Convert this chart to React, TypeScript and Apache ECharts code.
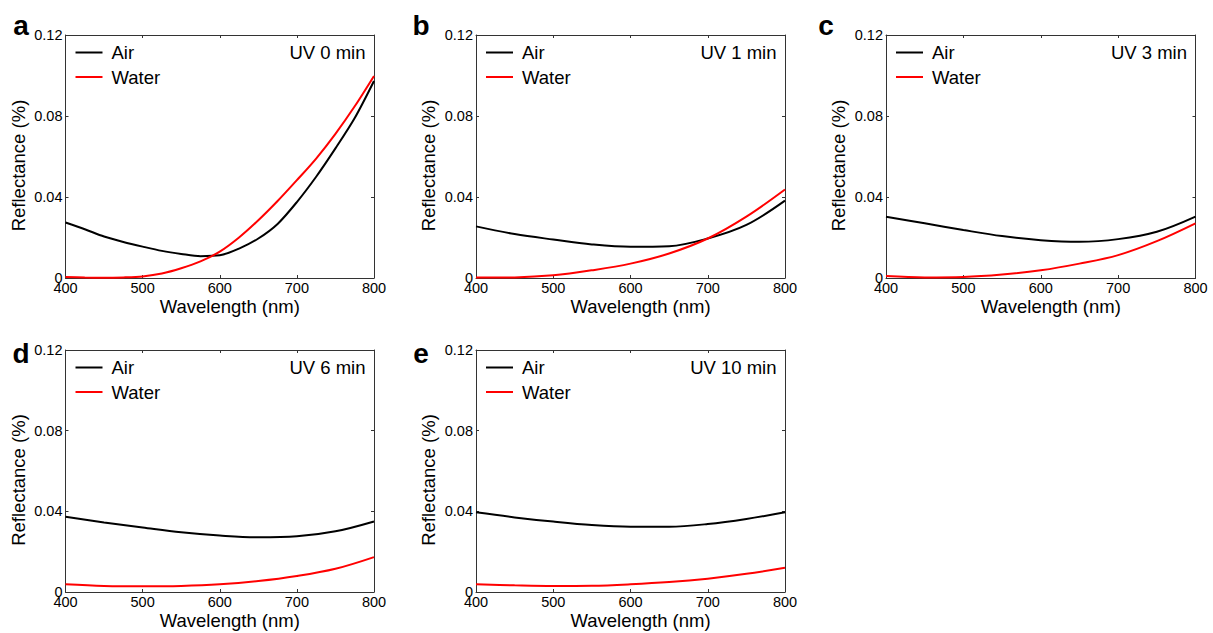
import React, { useEffect, useRef } from 'react';
import * as echarts from 'echarts';

// ---- data ----
const wavelengthsA = [400, 425, 450, 475, 500, 525, 550, 575, 600, 625, 650, 675, 700, 725, 750, 775, 800];
const airA = [0.0274, 0.0241, 0.0205, 0.0178, 0.0155, 0.0134, 0.0119, 0.0108, 0.0112, 0.0145, 0.0195, 0.0267, 0.0375, 0.05, 0.064, 0.079, 0.0973];
const waterA = [0.0005, 0.0002, 0.0001, 0.0003, 0.0008, 0.0022, 0.0048, 0.0082, 0.013, 0.02, 0.0285, 0.038, 0.0483, 0.059, 0.0712, 0.0848, 0.0998];

const wavelengths = [400, 450, 500, 550, 600, 650, 700, 750, 800];
const airB = [0.0255, 0.0217, 0.019, 0.0166, 0.0154, 0.0157, 0.0195, 0.0262, 0.0382];
const waterB = [0.0002, 0.0003, 0.0013, 0.0038, 0.0071, 0.0121, 0.0195, 0.0303, 0.0437];
const airC = [0.0303, 0.027, 0.0237, 0.0207, 0.0187, 0.0179, 0.0192, 0.0228, 0.0303];
const waterC = [0.001, 0.0003, 0.0005, 0.0017, 0.0038, 0.0071, 0.0113, 0.0182, 0.027];
const airD = [0.0373, 0.0345, 0.032, 0.0296, 0.028, 0.0271, 0.0276, 0.0301, 0.035];
const waterD = [0.0038, 0.003, 0.0028, 0.003, 0.0038, 0.0054, 0.0079, 0.0115, 0.0173];
const airE = [0.0395, 0.037, 0.0349, 0.0332, 0.0324, 0.0324, 0.0337, 0.0362, 0.0395];
const waterE = [0.0038, 0.0033, 0.003, 0.0031, 0.0038, 0.0049, 0.0066, 0.009, 0.012];

const panelLetters = ['a', 'b', 'c', 'd', 'e'];
const uvLabels = ['UV 0 min', 'UV 1 min', 'UV 3 min', 'UV 6 min', 'UV 10 min'];
const seriesNames = ['Air', 'Water'];
const xAxisTitle = 'Wavelength (nm)';
const yAxisTitle = 'Reflectance (%)';

const panelX = [wavelengthsA, wavelengths, wavelengths, wavelengths, wavelengths];
const panelAir = [airA, airB, airC, airD, airE];
const panelWater = [waterA, waterB, waterC, waterD, waterE];

// ---- layout ----
const grids = [
  { left: 65.5, top: 35, width: 308.5, height: 243 },
  { left: 476, top: 35, width: 309, height: 243 },
  { left: 886, top: 35, width: 309.5, height: 243 },
  { left: 65.5, top: 350, width: 308.5, height: 242 },
  { left: 476, top: 350, width: 309, height: 242 },
];
const letterPos = [
  [21, 25],
  [421, 25],
  [826, 25],
  [21, 353],
  [421, 353],
];

const FONT = '"Liberation Sans", Arial, Helvetica, sans-serif';
const AXIS_COLOR = '#333';

function pairs(xs: number[], ys: number[]) {
  return xs.map((x, i) => [x, ys[i]]);
}

export default function App() {
  const ref = useRef<HTMLDivElement>(null);
  useEffect(() => {
    if (!ref.current) return;
    const chart = echarts.init(ref.current, undefined, { renderer: 'svg' });

    const xAxes: any[] = [];
    const yAxes: any[] = [];
    const series: any[] = [];
    const legends: any[] = [];
    const graphics: any[] = [];

    grids.forEach((g, i) => {
      const tickStyle = { show: true, inside: true, length: 3, lineStyle: { color: AXIS_COLOR, width: 1 } };
      const lineStyle = { show: true, onZero: false, lineStyle: { color: AXIS_COLOR, width: 1 } };
      const smooth = i === 0 ? 0.3 : 0.35;
      xAxes.push({
        type: 'value', gridIndex: i, position: 'bottom', min: 400, max: 800, interval: 100,
        axisLine: lineStyle, axisTick: tickStyle, splitLine: { show: false },
        axisLabel: { show: true, color: '#000', fontFamily: FONT, fontSize: 14.5, lineHeight: 10, margin: 5 },
        name: xAxisTitle, nameLocation: 'middle', nameGap: 19,
        nameTextStyle: { color: '#000', fontFamily: FONT, fontSize: 18.5, padding: [0, 0, 0, 20] },
      });
      xAxes.push({
        type: 'value', gridIndex: i, position: 'top', min: 400, max: 800, interval: 100,
        axisLine: lineStyle, axisTick: tickStyle, splitLine: { show: false },
        axisLabel: { show: false },
      });
      yAxes.push({
        type: 'value', gridIndex: i, position: 'left', min: 0, max: 0.12, interval: 0.04,
        axisLine: lineStyle, axisTick: tickStyle, splitLine: { show: false },
        axisLabel: {
          show: true, color: '#000', fontFamily: FONT, fontSize: 14.5, lineHeight: 10, margin: 3,
          formatter: (v: number) => (v === 0 ? '0' : v.toFixed(2)),
        },
        name: yAxisTitle, nameLocation: 'middle', nameGap: 38,
        nameTextStyle: { color: '#000', fontFamily: FONT, fontSize: 18.5, padding: [0, 18, 0, 0] },
      });
      yAxes.push({
        type: 'value', gridIndex: i, position: 'right', min: 0, max: 0.12, interval: 0.04,
        axisLine: lineStyle, axisTick: tickStyle, splitLine: { show: false },
        axisLabel: { show: false },
      });
      series.push({
        type: 'line', name: seriesNames[0], xAxisIndex: i * 2, yAxisIndex: i * 2,
        data: pairs(panelX[i], panelAir[i]), smooth, showSymbol: false, symbol: 'none',
        lineStyle: { color: '#000', width: 2 }, itemStyle: { color: '#000' }, z: 2,
      });
      series.push({
        type: 'line', name: seriesNames[1], xAxisIndex: i * 2, yAxisIndex: i * 2,
        data: pairs(panelX[i], panelWater[i]), smooth, showSymbol: false, symbol: 'none',
        lineStyle: { color: '#ff0000', width: 2 }, itemStyle: { color: '#ff0000' }, z: 3,
      });
      legends.push({
        show: true, orient: 'vertical', left: g.left + 10, top: g.top + 8,
        itemWidth: 27, itemHeight: 2, itemGap: 5.5, selectedMode: false, padding: 0,
        data: seriesNames.map((n) => ({ name: n, icon: 'rect' })),
        textStyle: { color: '#000', fontFamily: FONT, fontSize: 18.5, padding: [0, 0, 0, 4] },
      });
      graphics.push({
        type: 'text', x: g.left + g.width - 8.5, y: g.top + 17,
        style: { text: uvLabels[i], fill: '#000', fontFamily: FONT, fontSize: 18.5, align: 'right', verticalAlign: 'middle' },
      });
      graphics.push({
        type: 'text', x: letterPos[i][0], y: letterPos[i][1],
        style: { text: panelLetters[i], fill: '#000', fontFamily: FONT, fontSize: 28, fontWeight: 'bold', align: 'center', verticalAlign: 'middle' },
      });
    });

    chart.setOption({
      animation: false,
      backgroundColor: '#fff',
      grid: grids.map((g) => ({ ...g, containLabel: false, show: false })),
      xAxis: xAxes,
      yAxis: yAxes,
      legend: legends,
      series,
      graphic: graphics,
    });
    return () => chart.dispose();
  }, []);
  return <div ref={ref} style={{ position: 'fixed', left: 0, top: 0, width: 1213, height: 633 }} />;
}
